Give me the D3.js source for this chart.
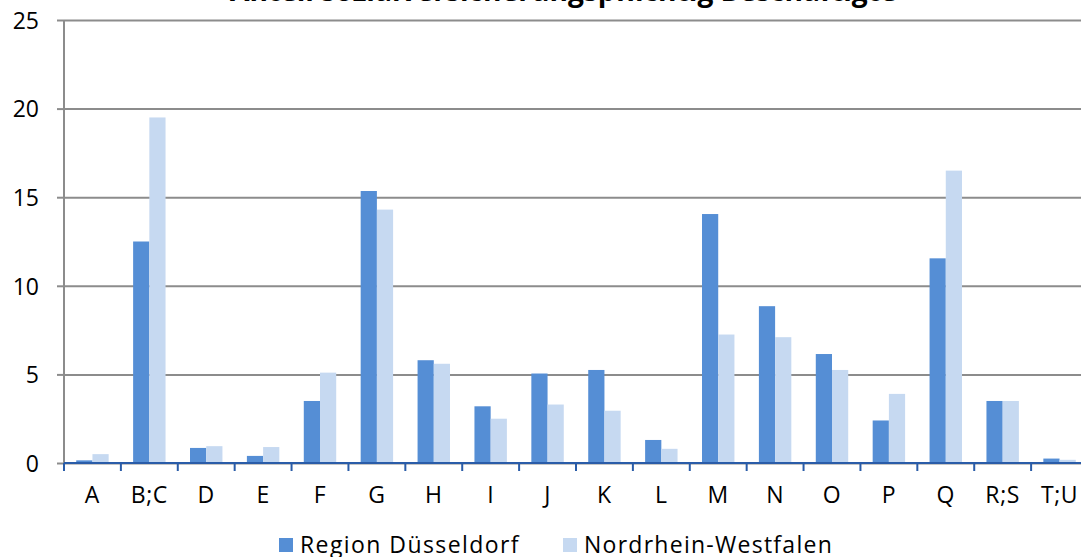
<!DOCTYPE html>
<html lang="de">
<head>
<meta charset="utf-8">
<script src="https://cdn.jsdelivr.net/npm/d3@7"></script>
<style>
  html, body { margin: 0; padding: 0; background: #fff; }
  svg { display: block; }
</style>
</head>
<body>
<svg id="chart" width="1081" height="557"></svg>
<script>
// Wirtschaftsabschnitte (WZ 2008)
const categories = ["A", "B;C", "D", "E", "F", "G", "H", "I", "J", "K", "L", "M", "N", "O", "P", "Q", "R;S", "T;U"];
// Anteile in Prozent
const regionDuesseldorf = [0.15, 12.5, 0.85, 0.4, 3.5, 15.35, 5.8, 3.2, 5.05, 5.25, 1.3, 14.05, 8.85, 6.15, 2.4, 11.55, 3.5, 0.25];
const nordrheinWestfalen = [0.5, 19.5, 0.95, 0.9, 5.1, 14.3, 5.6, 2.5, 3.3, 2.95, 0.8, 7.25, 7.1, 5.25, 3.9, 16.5, 3.5, 0.18];
const seriesNames = ["Region Düsseldorf", "Nordrhein-Westfalen"];
const yTicks = [0, 5, 10, 15, 20, 25];
const title = "Anteil sozialversicherungspflichtig Beschäftigte";

const colors = ["#558ed5", "#c6d9f1"];
const fontFamily = "'Open Sans', 'DejaVu Sans', sans-serif";

const svg = d3.select("#chart");
const plotLeft = 64, plotRight = 1088, plotTop = 20, plotBottom = 463;

const x0 = d3.scaleBand().domain(categories).range([plotLeft, plotRight])
  .paddingInner(0.43).paddingOuter(0.215);
const x1 = d3.scaleBand().domain(seriesNames).range([0, x0.bandwidth()]);
const y = d3.scaleLinear().domain([0, 25]).range([plotBottom, plotTop]);

// Title (runs off the top edge of the drawing)
const t = svg.append("text")
  .attr("x", 230).attr("y", 1)
  .attr("font-family", fontFamily)
  .attr("font-weight", "bold")
  .attr("font-size", 28)
  .attr("fill", "#000")
  .text(title);
const tw = t.node().getComputedTextLength();
t.attr("font-size", 28 * 667 / tw);

// Grid lines
const yAxis = d3.axisLeft(y).tickValues(yTicks).tickSize(-(plotRight - plotLeft)).tickSizeOuter(0).tickPadding(0).tickFormat(d3.format("d"));
const gy = svg.append("g").attr("transform", `translate(${plotLeft},0)`).call(yAxis);
gy.select(".domain").remove();
gy.selectAll(".tick line").attr("stroke", "#8c8c8c").attr("stroke-width", 2);
gy.selectAll(".tick text").remove();

// Small outside tick marks and labels
gy.selectAll(".tick").append("line")
  .attr("x1", -7).attr("x2", 0)
  .attr("stroke", "#8c8c8c").attr("stroke-width", 2);
gy.selectAll(".tick").append("text")
  .attr("x", -25).attr("dy", "0.36em")
  .attr("text-anchor", "end")
  .attr("font-family", fontFamily)
  .attr("font-size", 23)
  .attr("fill", "#000")
  .text(d => d);

// Vertical axis line
svg.append("line")
  .attr("x1", plotLeft).attr("x2", plotLeft)
  .attr("y1", y(25)).attr("y2", plotBottom)
  .attr("stroke", "#8c8c8c").attr("stroke-width", 2);

// Bars
const groups = svg.append("g").selectAll("g")
  .data(categories)
  .join("g")
  .attr("transform", d => `translate(${x0(d)},0)`);

groups.selectAll("rect")
  .data((d, i) => [
    { name: seriesNames[0], value: regionDuesseldorf[i] },
    { name: seriesNames[1], value: nordrheinWestfalen[i] }
  ])
  .join("rect")
  .attr("x", d => x1(d.name))
  .attr("width", x1.bandwidth())
  .attr("y", d => y(d.value))
  .attr("height", d => plotBottom - y(d.value))
  .attr("fill", (d, i) => colors[i]);

// Category axis
const xAxis = d3.axisBottom(x0).tickSize(0).tickPadding(0);
const gx = svg.append("g").attr("transform", `translate(0,${plotBottom})`).call(xAxis);
gx.select(".domain").remove();
gx.selectAll(".tick text")
  .attr("y", 0).attr("dy", 0)
  .attr("transform", "translate(0,40)")
  .attr("font-family", fontFamily)
  .attr("font-size", 23)
  .attr("letter-spacing", 0.6)
  .attr("fill", "#000");

svg.append("line")
  .attr("x1", plotLeft).attr("x2", plotRight)
  .attr("y1", plotBottom).attr("y2", plotBottom)
  .attr("stroke", "#2a5ca8").attr("stroke-width", 2);

const boundaries = d3.range(categories.length + 1).map(i => plotLeft + i * x0.step());
svg.append("g").selectAll("line")
  .data(boundaries)
  .join("line")
  .attr("x1", d => d).attr("x2", d => d)
  .attr("y1", plotBottom).attr("y2", plotBottom + 8)
  .attr("stroke", "#2a5ca8").attr("stroke-width", 2);

// Legend
const legend = svg.append("g");
const legendItems = [
  { name: seriesNames[0], x: 279, w: 220 },
  { name: seriesNames[1], x: 563, w: 249 }
];
legendItems.forEach((it, i) => {
  legend.append("rect")
    .attr("x", it.x).attr("y", 538)
    .attr("width", 14).attr("height", 14)
    .attr("fill", colors[i]);
  const lt = legend.append("text")
    .attr("x", it.x + 21).attr("y", 553)
    .attr("font-family", fontFamily)
    .attr("font-size", 23)
    .attr("fill", "#000")
    .text(it.name);
  const lw = lt.node().getComputedTextLength();
  lt.attr("letter-spacing", (it.w - lw) / it.name.length);
});
</script>
</body>
</html>
